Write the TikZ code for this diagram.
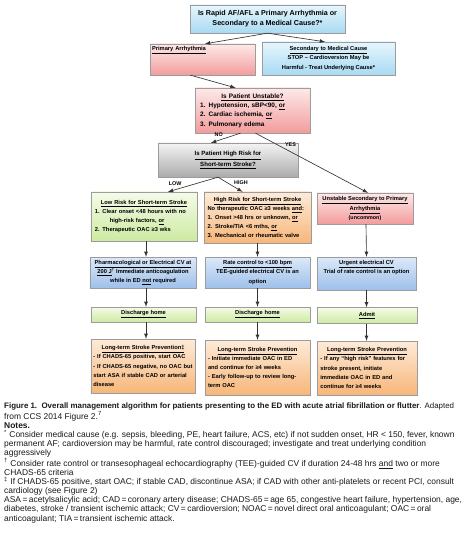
\documentclass[tikz,border=0pt]{standalone}
\usepackage{fontspec}
\setmainfont{Liberation Sans}
\usetikzlibrary{arrows, shadows}

\definecolor{boxline}{HTML}{9C9C9C}
\definecolor{arrowgray}{HTML}{333333}
\definecolor{cyantop}{HTML}{E6F6FD}
\definecolor{cyanbot}{HTML}{A9DAF2}
\definecolor{bluetop}{HTML}{DCE9F9}
\definecolor{bluebot}{HTML}{9EC0EA}
\definecolor{pinktop}{HTML}{FDE9E9}
\definecolor{pinkbot}{HTML}{F39C9C}
\definecolor{greentop}{HTML}{F5FBE8}
\definecolor{greenbot}{HTML}{CDEAA2}
\definecolor{orangetop}{HTML}{FDEBD9}
\definecolor{orangebot}{HTML}{F7B679}
\definecolor{graytop}{HTML}{F4F4F4}
\definecolor{graybot}{HTML}{ABABAB}

\tikzset{
  flowbox/.style={draw=boxline, line width=0.3pt, align=center, inner sep=1pt,
    font=\fontsize{4.9}{7.8}\selectfont\bfseries,
    drop shadow={shadow xshift=0.7pt, shadow yshift=-0.7pt, fill=black, opacity=0.25}},
  cyanbox/.style={flowbox, top color=cyantop, bottom color=cyanbot},
  bluebox/.style={flowbox, top color=bluetop, bottom color=bluebot},
  pinkbox/.style={flowbox, top color=pinktop, bottom color=pinkbot},
  greenbox/.style={flowbox, top color=greentop, bottom color=greenbot},
  orangebox/.style={flowbox, top color=orangetop, bottom color=orangebot},
  graybox/.style={flowbox, top color=graytop, bottom color=graybot},
  flowarrow/.style={-latex, draw=arrowgray, line width=0.55pt},
  branch/.style={font=\fontsize{4.6}{5}\selectfont\bfseries, text=black, inner sep=1pt}
}

\begin{document}
\begin{tikzpicture}[x=0.03cm, y=-0.03cm]
    \useasboundingbox (0,0) rectangle (474,543);
    % question boxes
    \node[cyanbox, minimum width=4.65cm, minimum height=0.84cm, font=\fontsize{6.1}{8.6}\selectfont\bfseries] (start) at (267.5,19)
        {Is Rapid AF/AFL a Primary Arrhythmia or\\Secondary to a Medical Cause?*};
    \node[pinkbox, minimum width=3.15cm, minimum height=0.93cm, text width=3.03cm, align=left] (primary) at (202.5,59.5)
        {\underline{Primary Arrhythmia}\\[11pt]\mbox{}};
    \node[cyanbox, minimum width=3.99cm, minimum height=0.99cm] (secondary) at (328.5,58.5)
        {\underline{Secondary to Medical Cause}\\STOP -- Cardioversion May be\\Harmful - Treat Underlying Cause*};
    \node[pinkbox, minimum width=3.45cm, minimum height=1.35cm, text width=3.15cm, align=left, font=\fontsize{5.5}{8}\selectfont\bfseries] (unstable) at (252.5,110.5)
        {\centerline{\underline{Is Patient Unstable?}}
         1. Hypotension, sBP<90, \underline{or}\\2. Cardiac ischemia, \underline{or}\\3. Pulmonary edema};
    \node[graybox, minimum width=4.2cm, minimum height=1.02cm, font=\fontsize{5.2}{8.6}\selectfont\bfseries] (risk) at (228,160)
        {\underline{Is Patient High Risk for}\\\underline{Short-term Stroke?}};
    % second row
    \node[greenbox, minimum width=3.18cm, minimum height=1.47cm, text width=2.95cm, align=left] (lowrisk) at (144,216.5)
        {\centerline{\underline{Low Risk for Short-term Stroke}}
         1. Clear onset <48 hours with no\\\hspace*{0.45cm}high-risk factors, \underline{or}\\2. Therapeutic OAC ≥3 wks};
    \node[orangebox, minimum width=3.21cm, minimum height=1.53cm, text width=3.0cm, align=left] (highrisk) at (257.5,217.5)
        {\centerline{\underline{High Risk for Short-term Stroke}}
         No therapeutic OAC ≥3 weeks \underline{and}:\\1. Onset >48 hrs or unknown, \underline{or}\\2. Stroke/TIA <6 mths, \underline{or}\\3. Mechanical or rheumatic valve};
    \node[pinkbox, minimum width=2.88cm, minimum height=0.93cm] (urgent) at (365,208.5)
        {\underline{Unstable Secondary to Primary}\\\underline{Arrhythmia}\\{\fontsize{4.6}{7.8}\selectfont(uncommon)}};
    % treatment row
    \node[bluebox, minimum width=3.18cm, minimum height=0.93cm] (pharm) at (143,272.5)
        {\underline{Pharmacological or Electrical CV at}\\\underline{200 J}\textsuperscript{†} Immediate anticoagulation\\while in ED \underline{not} required};
    \node[bluebox, minimum width=3.15cm, minimum height=0.93cm] (ratectl) at (257.5,272.5)
        {\underline{Rate control to <100 bpm}\\TEE-guided electrical CV is an\\option};
    \node[bluebox, minimum width=2.97cm, minimum height=0.99cm] (urgentcv) at (366.5,273.5)
        {\underline{Urgent electrical CV}\\Trial of rate control is an option\\[4pt]\mbox{}};
    % disposition row
    \node[greenbox, minimum width=3.15cm, minimum height=0.45cm] (home1) at (143.5,314.5) {\underline{Discharge home}};
    \node[greenbox, minimum width=3.15cm, minimum height=0.45cm] (home2) at (257.5,314.5) {\underline{Discharge home}};
    \node[greenbox, minimum width=3.0cm, minimum height=0.48cm] (admit) at (367,315.5) {\underline{Admit}};
    % stroke prevention row
    \node[orangebox, minimum width=3.12cm, minimum height=1.62cm, text width=2.98cm, align=left] (prev1) at (143,366)
        {\centerline{\underline{Long-term Stroke Prevention‡}}
         - If CHADS-65 positive, start OAC\\- If CHADS-65 negative, no OAC but\\start ASA if stable CAD or arterial\\disease};
    \node[orangebox, minimum width=3.15cm, minimum height=1.65cm, text width=2.97cm, align=left] (prev2) at (257.5,367.5)
        {\centerline{\underline{Long-term Stroke Prevention}}
         - Initiate immediate OAC in ED\\and continue for ≥4 weeks\\- Early follow-up to review long-\\term OAC};
    \node[orangebox, minimum width=3.0cm, minimum height=1.62cm, text width=2.8cm, align=left] (prev3) at (367,368)
        {\centerline{\underline{Long-term Stroke Prevention}}
         - If any “high risk” features for\\stroke present, initiate\\immediate OAC in ED and\\continue for ≥4 weeks};
    % connectors
    \draw[flowarrow] (start.south) -- ([shift={(2.5,0)}]primary.north);
    \draw[flowarrow] (start.south) -- ([shift={(-3.5,0)}]secondary.north);
    \draw[flowarrow] ([shift={(-12,0)}]primary.south) -- ([shift={(-17,0)}]unstable.north);
    \draw[flowarrow] ([shift={(-12,0)}]unstable.south) -- ([shift={(-17,0)}]risk.north)
        node[branch, pos=0.55, above left] {NO};
    \draw[flowarrow] ([shift={(3,0)}]unstable.south) -- ([shift={(3,0)}]urgent.north)
        node[branch, pos=0.25, above right] {YES};
    \draw[flowarrow] ([shift={(-10,0)}]risk.south) -- ([shift={(24,0)}]lowrisk.north)
        node[branch, pos=0.7, above left] {LOW};
    \draw[flowarrow] ([shift={(-10,0)}]risk.south) -- ([shift={(-15,0)}]highrisk.north)
        node[branch, pos=0.6, above right] {HIGH};
    \draw[flowarrow] ([shift={(2,0)}]lowrisk.south) -- ([shift={(3,0)}]pharm.north);
    \draw[flowarrow] (highrisk.south) -- (ratectl.north);
    \draw[flowarrow] ([shift={(1,0)}]urgent.south) -- (urgentcv.north);
    \draw[flowarrow] ([shift={(3,0)}]pharm.south) -- ([shift={(2.5,0)}]home1.north);
    \draw[flowarrow] (ratectl.south) -- (home2.north);
    \draw[flowarrow] (urgentcv.south) -- ([shift={(-0.5,0)}]admit.north);
    \draw[flowarrow] ([shift={(2.5,0)}]home1.south) -- ([shift={(3,0)}]prev1.north);
    \draw[flowarrow] (home2.south) -- (prev2.north);
    \draw[flowarrow] ([shift={(-0.5,0)}]admit.south) -- ([shift={(-0.5,0)}]prev3.north);
    % caption and notes
    \node[anchor=north west, align=left, inner sep=0pt, text=black!90,
          font=\fontsize{7.2}{7.76}\selectfont] (caption) at (4,403)
        {{\fontsize{6.75}{7.76}\selectfont\textbf{Figure 1.\ \ Overall management algorithm for patients presenting to the ED with acute atrial fibrillation or flutter}. Adapted}\\
         from CCS 2014 Figure 2.\textsuperscript{7}\\
         \textbf{Notes.}\\
         \textsuperscript{*} Consider medical cause (e.g. sepsis, bleeding, PE, heart failure, ACS, etc) if not sudden onset, HR < 150, fever, known\\
         permanent AF; cardioversion may be harmful, rate control discouraged; investigate and treat underlying condition\\
         aggressively\\
         \textsuperscript{†} Consider rate control or transesophageal echocardiography (TEE)-guided CV if duration 24-48 hrs \underline{and} two or more\\
         CHADS-65 criteria\\
         \textsuperscript{‡} If CHADS-65 positive, start OAC; if stable CAD, discontinue ASA; if CAD with other anti-platelets or recent PCI, consult\\
         cardiology (see Figure 2)\\
         ASA\,=\,acetylsalicylic acid; CAD\,=\,coronary artery disease; CHADS-65\,=\,age 65, congestive heart failure, hypertension, age,\\
         diabetes, stroke / transient ischemic attack; CV\,=\,cardioversion; NOAC\,=\,novel direct oral anticoagulant; OAC\,=\,oral\\
         anticoagulant; TIA\,=\,transient ischemic attack.};
\end{tikzpicture}
\end{document}
